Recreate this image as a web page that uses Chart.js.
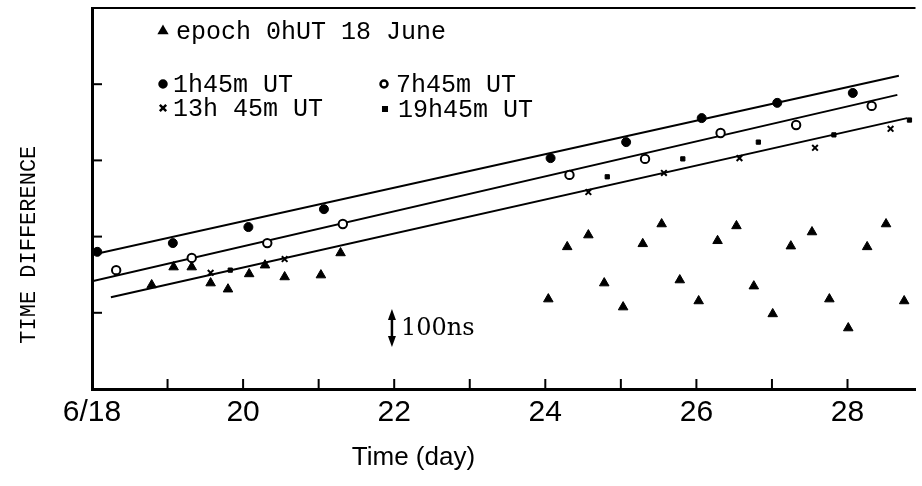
<!DOCTYPE html>
<html>
<head>
<meta charset="utf-8">
<script src="https://cdn.jsdelivr.net/npm/chart.js@4.4.1/dist/chart.umd.min.js"></script>
<style>
  html, body { margin: 0; padding: 0; background: #fff; }
  #wrap { width: 922px; height: 486px; }
</style>
</head>
<body>
<div id="wrap"><canvas id="timeChart"></canvas></div>
<script>
// values: x in days of June, y in ns (arbitrary zero)
const epochDays = [18.79, 19.08, 19.32, 19.57, 19.80, 20.08, 20.29, 20.55, 21.03, 21.29,
  24.04, 24.29, 24.57, 24.78, 25.03, 25.29, 25.54, 25.78, 26.03, 26.28,
  26.53, 26.76, 27.01, 27.25, 27.53, 27.76, 28.01, 28.26, 28.51, 28.75];
const epochNs = [273, 320, 320, 278, 262, 302, 325, 294, 299, 357,
  236, 373, 404, 278, 215, 381, 433, 286, 231, 389,
  428, 270, 197, 375, 412, 236, 160, 373, 433, 231];

const h0145Days = [18.07, 19.07, 20.07, 21.07, 24.07, 25.07, 26.07, 27.07, 28.07];
const h0145Ns = [360, 383, 425, 472, 606, 648, 711, 751, 777];

const h0745Days = [18.32, 19.32, 20.32, 21.32, 24.32, 25.32, 26.32, 27.32, 28.32];
const h0745Ns = [312, 344, 383, 433, 562, 604, 672, 693, 743];

const h1345Days = [19.57, 20.55, 24.57, 25.57, 26.57, 27.57, 28.57];
const h1345Ns = [305, 341, 517, 567, 606, 633, 683];

const h1945Days = [19.83, 24.82, 25.82, 26.82, 27.82, 28.82];
const h1945Ns = [312, 557, 604, 648, 667, 706];

// fitted straight lines (end points)
const fitTopDays = [18.0, 28.68];
const fitTopNs = [352, 822];
const fitMidDays = [18.0, 28.66];
const fitMidNs = [283, 772];
const fitLowDays = [18.25, 28.79];
const fitLowNs = [241, 711];

const xTickDays = [18, 20, 22, 24, 26, 28];
const xTickLabels = ['6/18', '20', '22', '24', '26', '28'];

const seriesLabels = ['epoch 0hUT 18 June', '1h45m UT', '7h45m UT', '13h 45m UT', '19h45m UT'];

// 100 ns scale bar
const barDay = 21.97;
const barNs = [110, 210];
const barLabel = '100ns';

const pts = (xs, ys) => xs.map((x, i) => ({ x: x, y: ys[i] }));

const fitLine = (xs, ys) => ({
  data: pts(xs, ys),
  showLine: true,
  borderColor: '#000',
  borderWidth: 2,
  pointRadius: 0,
  fill: false
});

const frame = {
  id: 'frame',
  afterDatasetsDraw(chart) {
    const { ctx, chartArea: a, scales: { x, y } } = chart;
    ctx.save();
    ctx.strokeStyle = '#000';
    ctx.fillStyle = '#000';

    // top edge of the box
    ctx.lineWidth = 2;
    ctx.beginPath();
    ctx.moveTo(a.left, a.top);
    ctx.lineTo(a.right, a.top);
    ctx.stroke();

    // inward tick marks
    x.ticks.forEach(t => {
      if (!Number.isInteger(t.value) || t.value <= x.min) return;
      const px = x.getPixelForValue(t.value);
      ctx.beginPath();
      ctx.moveTo(px, a.bottom);
      ctx.lineTo(px, a.bottom - 10);
      ctx.stroke();
    });
    y.ticks.forEach(t => {
      if (t.value <= y.min || t.value >= y.max) return;
      const py = y.getPixelForValue(t.value);
      ctx.beginPath();
      ctx.moveTo(a.left, py);
      ctx.lineTo(a.left + 10, py);
      ctx.stroke();
    });

    // scale bar
    const bx = x.getPixelForValue(barDay);
    const b0 = y.getPixelForValue(barNs[0]);
    const b1 = y.getPixelForValue(barNs[1]);
    ctx.lineWidth = 2.5;
    ctx.beginPath();
    ctx.moveTo(bx, b0 - 6);
    ctx.lineTo(bx, b1 + 6);
    ctx.stroke();
    [[b1, 1], [b0, -1]].forEach(([tip, dir]) => {
      ctx.beginPath();
      ctx.moveTo(bx, tip);
      ctx.lineTo(bx - 4, tip + dir * 11);
      ctx.lineTo(bx + 4, tip + dir * 11);
      ctx.closePath();
      ctx.fill();
    });
    ctx.font = '24px "DejaVu Serif"';
    ctx.textBaseline = 'middle';
    ctx.textAlign = 'left';
    ctx.fillText(barLabel, bx + 9, (b0 + b1) / 2 + 1);

    // key in the upper left of the box
    const key = [
      { ds: 0, dx: 71, dy: 23, tx: 84, r: 4 },
      { ds: 1, dx: 71, dy: 76, tx: 81, r: 3.5 },
      { ds: 2, dx: 292, dy: 76, tx: 304, r: 3.5 },
      { ds: 3, dx: 71, dy: 100, tx: 81, r: 4.5 },
      { ds: 4, dx: 293, dy: 101, tx: 306, r: 2.5 }
    ];
    ctx.font = '25px "Liberation Mono"';
    key.forEach(k => {
      const d = chart.data.datasets[k.ds];
      ctx.fillStyle = d.backgroundColor;
      ctx.strokeStyle = d.borderColor;
      Chart.helpers.drawPoint(ctx, {
        pointStyle: d.pointStyle,
        radius: k.r,
        borderWidth: d.borderWidth,
        rotation: 0
      }, a.left + k.dx, a.top + k.dy);
      ctx.fillStyle = '#000';
      ctx.fillText(d.label, a.left + k.tx, a.top + k.dy + 1);
    });
    ctx.restore();
  }
};

new Chart(document.getElementById('timeChart'), {
  type: 'scatter',
  data: {
    datasets: [
      {
        label: seriesLabels[0],
        data: pts(epochDays, epochNs),
        pointStyle: 'triangle',
        pointRadius: 5.5,
        backgroundColor: '#000',
        borderColor: '#000',
        borderWidth: 1
      },
      {
        label: seriesLabels[1],
        data: pts(h0145Days, h0145Ns),
        pointStyle: 'circle',
        pointRadius: 4.5,
        backgroundColor: '#000',
        borderColor: '#000',
        borderWidth: 1
      },
      {
        label: seriesLabels[2],
        data: pts(h0745Days, h0745Ns),
        pointStyle: 'circle',
        pointRadius: 4.2,
        backgroundColor: '#fff',
        borderColor: '#000',
        borderWidth: 2
      },
      {
        label: seriesLabels[3],
        data: pts(h1345Days, h1345Ns),
        pointStyle: 'crossRot',
        pointRadius: 4,
        backgroundColor: '#000',
        borderColor: '#000',
        borderWidth: 2
      },
      {
        label: seriesLabels[4],
        data: pts(h1945Days, h1945Ns),
        pointStyle: 'rect',
        pointRadius: 3,
        backgroundColor: '#000',
        borderColor: '#000',
        borderWidth: 1
      },
      fitLine(fitTopDays, fitTopNs),
      fitLine(fitMidDays, fitMidNs),
      fitLine(fitLowDays, fitLowNs)
    ]
  },
  options: {
    responsive: true,
    maintainAspectRatio: false,
    animation: false,
    layout: { padding: { top: 8, right: 0, left: 0, bottom: 0 } },
    plugins: {
      legend: { display: false },
      tooltip: { enabled: false }
    },
    scales: {
      x: {
        type: 'linear',
        position: 'bottom',
        min: 18,
        max: 28.9,
        afterFit: s => { s.height = 97; },
        grid: { display: false },
        border: { display: true, color: '#000', width: 3 },
        ticks: {
          stepSize: 1,
          includeBounds: false,
          autoSkip: false,
          maxRotation: 0,
          padding: -2,
          color: '#000',
          font: { family: '"Liberation Sans", sans-serif', size: 30 },
          callback: v => {
            const i = xTickDays.indexOf(v);
            return i >= 0 ? xTickLabels[i] : '';
          }
        },
        title: {
          display: true,
          // trailing blanks pull the centred title left, as in the original
          text: 'Time (day)                         ',
          color: '#000',
          font: { family: '"Liberation Sans", sans-serif', size: 26 },
          padding: { top: 0, bottom: 13 }
        }
      },
      y: {
        type: 'linear',
        min: 0,
        max: 1000,
        afterFit: s => { s.width = 92; },
        grid: { display: false },
        border: { display: true, color: '#000', width: 3 },
        ticks: { stepSize: 200, display: false },
        title: {
          display: true,
          text: 'TIME DIFFERENCE       ',
          color: '#000',
          font: { family: '"Liberation Mono", monospace', size: 22 },
          padding: { top: 16, bottom: 0 }
        }
      }
    }
  },
  plugins: [frame]
});
</script>
</body>
</html>
